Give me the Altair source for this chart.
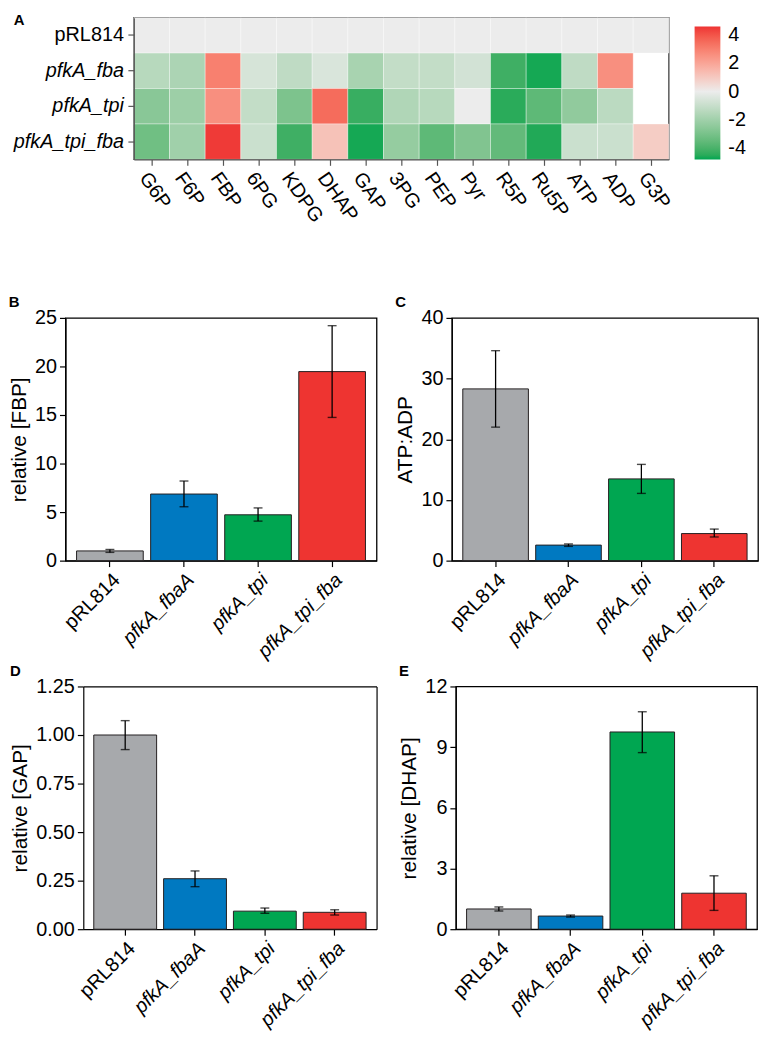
import altair as alt
import pandas as pd

FONT = "Liberation Sans"

# ---------------- Heatmap data (log2 fold change) ----------------
metabolites = ["G6P", "F6P", "FBP", "6PG", "KDPG", "DHAP", "GAP", "3PG",
               "PEP", "Pyr", "R5P", "Ru5P", "ATP", "ADP", "G3P"]
hm_strains = ["pRL814", "pfkA_fba", "pfkA_tpi", "pfkA_tpi_fba"]
hm_pRL814 = [0.0, 0.0, 0.0, 0.0, 0.0, 0.0, 0.0, 0.0, 0.0, 0.0, 0.0, 0.0, 0.0, 0.0, 0.0]
hm_pfkA_fba = [-1.4, -1.7, 3.0, -0.6, -1.2, -0.5, -1.8, -1.1, -1.1, -0.7, -4.2, -4.7, -1.2, 2.6, None]
hm_pfkA_tpi = [-2.6, -2.1, 2.6, -1.1, -2.9, 3.5, -4.3, -1.6, -1.4, 0.0, -4.5, -3.6, -2.4, -1.3, None]
hm_pfkA_tpi_fba = [-3.2, -2.0, 4.5, -0.9, -4.2, 1.2, -4.7, -2.3, -3.6, -2.8, -3.5, -4.6, -0.9, -0.9, 0.9]
hm_rows = [hm_pRL814, hm_pfkA_fba, hm_pfkA_tpi, hm_pfkA_tpi_fba]
legend_ticks = [-4, -2, 0, 2, 4]

# ---------------- Bar panel data ----------------
groups = ["pRL814", "pfkA_fbaA", "pfkA_tpi", "pfkA_tpi_fba"]
bar_colors = ["#A7A9AC", "#0079C1", "#00A651", "#EE3431"]

fbp_mean = [1.0, 6.86, 4.72, 19.47]
fbp_lo = [0.85, 5.55, 4.07, 14.75]
fbp_hi = [1.15, 8.2, 5.43, 24.2]

atp_mean = [28.3, 2.56, 13.47, 4.46]
atp_lo = [22.0, 2.35, 11.08, 3.9]
atp_hi = [34.6, 2.75, 15.86, 5.2]

gap_mean = [1.0, 0.26, 0.093, 0.087]
gap_lo = [0.925, 0.219, 0.082, 0.073]
gap_hi = [1.074, 0.30, 0.109, 0.10]

dhap_mean = [1.0, 0.65, 9.75, 1.78]
dhap_lo = [0.9, 0.6, 8.73, 0.93]
dhap_hi = [1.1, 0.7, 10.75, 2.64]

# ---------------- Heatmap ----------------
hm_records = []
for s, row in zip(hm_strains, hm_rows):
    for m, v in zip(metabolites, row):
        hm_records.append({"strain": s, "met": m, "v": v})
hm_df = pd.DataFrame(hm_records)

style_cond = {"condition": {"test": "datum.value === 'pRL814'", "value": "normal"},
              "value": "italic"}

HM_H = 143
LAB_W = 59

heat = alt.Chart(hm_df).transform_filter("isValid(datum.v)").mark_rect(
    stroke="white", strokeWidth=0.6, strokeOpacity=0.6
).encode(
    x=alt.X("met:N", sort=metabolites, scale=alt.Scale(domain=metabolites),
            axis=alt.Axis(title=None, labelAngle=55, labelAlign="left",
                          labelBaseline="top", labelFontSize=20,
                          domainColor="#555555", tickColor="#555555",
                          labelPadding=3)),
    y=alt.Y("strain:N", sort=hm_strains, scale=alt.Scale(domain=hm_strains),
            axis=alt.Axis(title=None, labels=False,
                          domainColor="#555555", tickColor="#555555")),
    color=alt.Color("v:Q",
                    scale=alt.Scale(domain=[-4.8, 0, 4.6],
                                    range=["#00A651", "#ECECEC", "#EE3333"],
                                    interpolate="lab"),
                    legend=alt.Legend(title=None, orient="none", legendX=635, legendY=9,
                                      gradientLength=134, gradientThickness=26,
                                      values=legend_ticks, labelFontSize=20,
                                      labelExpr="'' + datum.value",
                                      labelOffset=8, direction="vertical")),
).properties(
    width=540, height=HM_H,
    view=alt.ViewBackground(stroke="#5a5a5a", strokeWidth=1.5),
)

# row labels of the heatmap (upright for the control, italic for the mutants)
lab_df = pd.DataFrame({"strain": hm_strains})
lab_base = alt.Chart(lab_df).encode(
    y=alt.Y("strain:N", sort=hm_strains, scale=alt.Scale(domain=hm_strains), axis=None),
    x=alt.value(LAB_W),
    text="strain:N",
)
lab_norm = lab_base.transform_filter("datum.strain === 'pRL814'").mark_text(
    align="right", baseline="middle", fontSize=20, font=FONT, color="black",
    fontStyle="normal")
lab_ital = lab_base.transform_filter("datum.strain !== 'pRL814'").mark_text(
    align="right", baseline="middle", fontSize=20, font=FONT, color="black",
    fontStyle="italic")
labels = alt.layer(lab_norm, lab_ital).properties(
    width=LAB_W, height=HM_H,
    view=alt.ViewBackground(strokeOpacity=0),
    title=alt.TitleParams("A", offset=-10),
)

heat_row = alt.hconcat(labels, heat, spacing=2)


def bar_panel(letter, means, lo, hi, ytitle, dom, ticks, fmt, width, shift=0):
    df = pd.DataFrame({"strain": groups, "mean": means, "lo": lo, "hi": hi})
    base = alt.Chart(df)
    xscale = alt.Scale(domain=groups, paddingInner=0.1, paddingOuter=0.15,
                       range=[shift, shift + width])
    x_axis = alt.Axis(title=None, labelAngle=-45, labelAlign="right",
                      labelBaseline="top", labelFontSize=20,
                      labelFontStyle=style_cond)
    x = alt.X("strain:N", sort=groups, scale=xscale, axis=x_axis)
    x_noax = alt.X("strain:N", sort=groups, scale=xscale, axis=None)
    yaxis = alt.Axis(values=ticks, format=fmt, title=ytitle, offset=-shift)
    yscale = alt.Scale(domain=dom, nice=False)
    bars = base.mark_bar(stroke="#231f20", strokeWidth=1).encode(
        x=x,
        y=alt.Y("mean:Q", scale=yscale, axis=yaxis, title=ytitle),
        color=alt.Color("strain:N", scale=alt.Scale(domain=groups, range=bar_colors),
                        legend=None),
    )
    rule = base.mark_rule(color="black", strokeWidth=1.3).encode(
        x=x_noax, y=alt.Y("lo:Q", scale=yscale, axis=None), y2="hi:Q")
    cap_lo = base.mark_tick(color="black", size=9, thickness=1.4).encode(
        x=x_noax, y=alt.Y("lo:Q", scale=yscale, axis=None))
    cap_hi = base.mark_tick(color="black", size=9, thickness=1.4).encode(
        x=x_noax, y=alt.Y("hi:Q", scale=yscale, axis=None))
    layers = [bars, rule, cap_lo, cap_hi]
    props = dict(width=width + shift, height=245,
                 title=alt.TitleParams(letter, offset=-2))
    if shift:
        # frame drawn by axis domain lines, since the plot starts inside the view
        frame = base.mark_point(opacity=0).encode(
            x=alt.X("strain:N", sort=groups, scale=xscale,
                    axis=alt.Axis(orient="top", labels=False, ticks=False,
                                  title=None)),
            y=alt.Y("mean:Q", scale=yscale,
                    axis=alt.Axis(orient="right", labels=False, ticks=False,
                                  title=None)),
        )
        layers.append(frame)
        props["view"] = alt.ViewBackground(strokeOpacity=0)
    return alt.layer(*layers).resolve_axis(
        x="independent", y="independent").properties(**props)


pB = bar_panel("B", fbp_mean, fbp_lo, fbp_hi, "relative [FBP]", [0, 25],
               [0, 5, 10, 15, 20, 25], "d", 314)
pC = bar_panel("C", atp_mean, atp_lo, atp_hi, "ATP:ADP", [0, 40],
               [0, 10, 20, 30, 40], "d", 309)
pD = bar_panel("D", gap_mean, gap_lo, gap_hi, "relative [GAP]", [0, 1.25],
               [0, 0.25, 0.5, 0.75, 1.0, 1.25], ".2f", 296, shift=18)
pE = bar_panel("E", dhap_mean, dhap_lo, dhap_hi, "relative [DHAP]", [0, 12],
               [0, 3, 6, 9, 12], "d", 304)

row1 = alt.hconcat(pB, pC, spacing=17)
row2 = alt.hconcat(pD, pE, spacing=22)
bottom = alt.vconcat(row1, row2, spacing=0)

chart = alt.vconcat(heat_row, bottom, spacing=68).properties(
    padding=0
).configure_axis(
    labelFont=FONT, titleFont=FONT, labelColor="black", titleColor="black",
    tickColor="black", domainColor="black", grid=False, labelFontSize=20,
    titleFontSize=21, titleFontWeight="normal", tickSize=6, labelPadding=3,
    titlePadding=5, domainWidth=1.2, tickWidth=1.2,
).configure_legend(
    labelFont=FONT, labelColor="black"
).configure_view(
    stroke="black", strokeWidth=1.3
).configure_title(
    font=FONT, fontSize=15, fontWeight="bold", anchor="start", frame="bounds",
    color="black"
)

chart.save("out.html", embed_options={"renderer": "svg", "actions": False})
